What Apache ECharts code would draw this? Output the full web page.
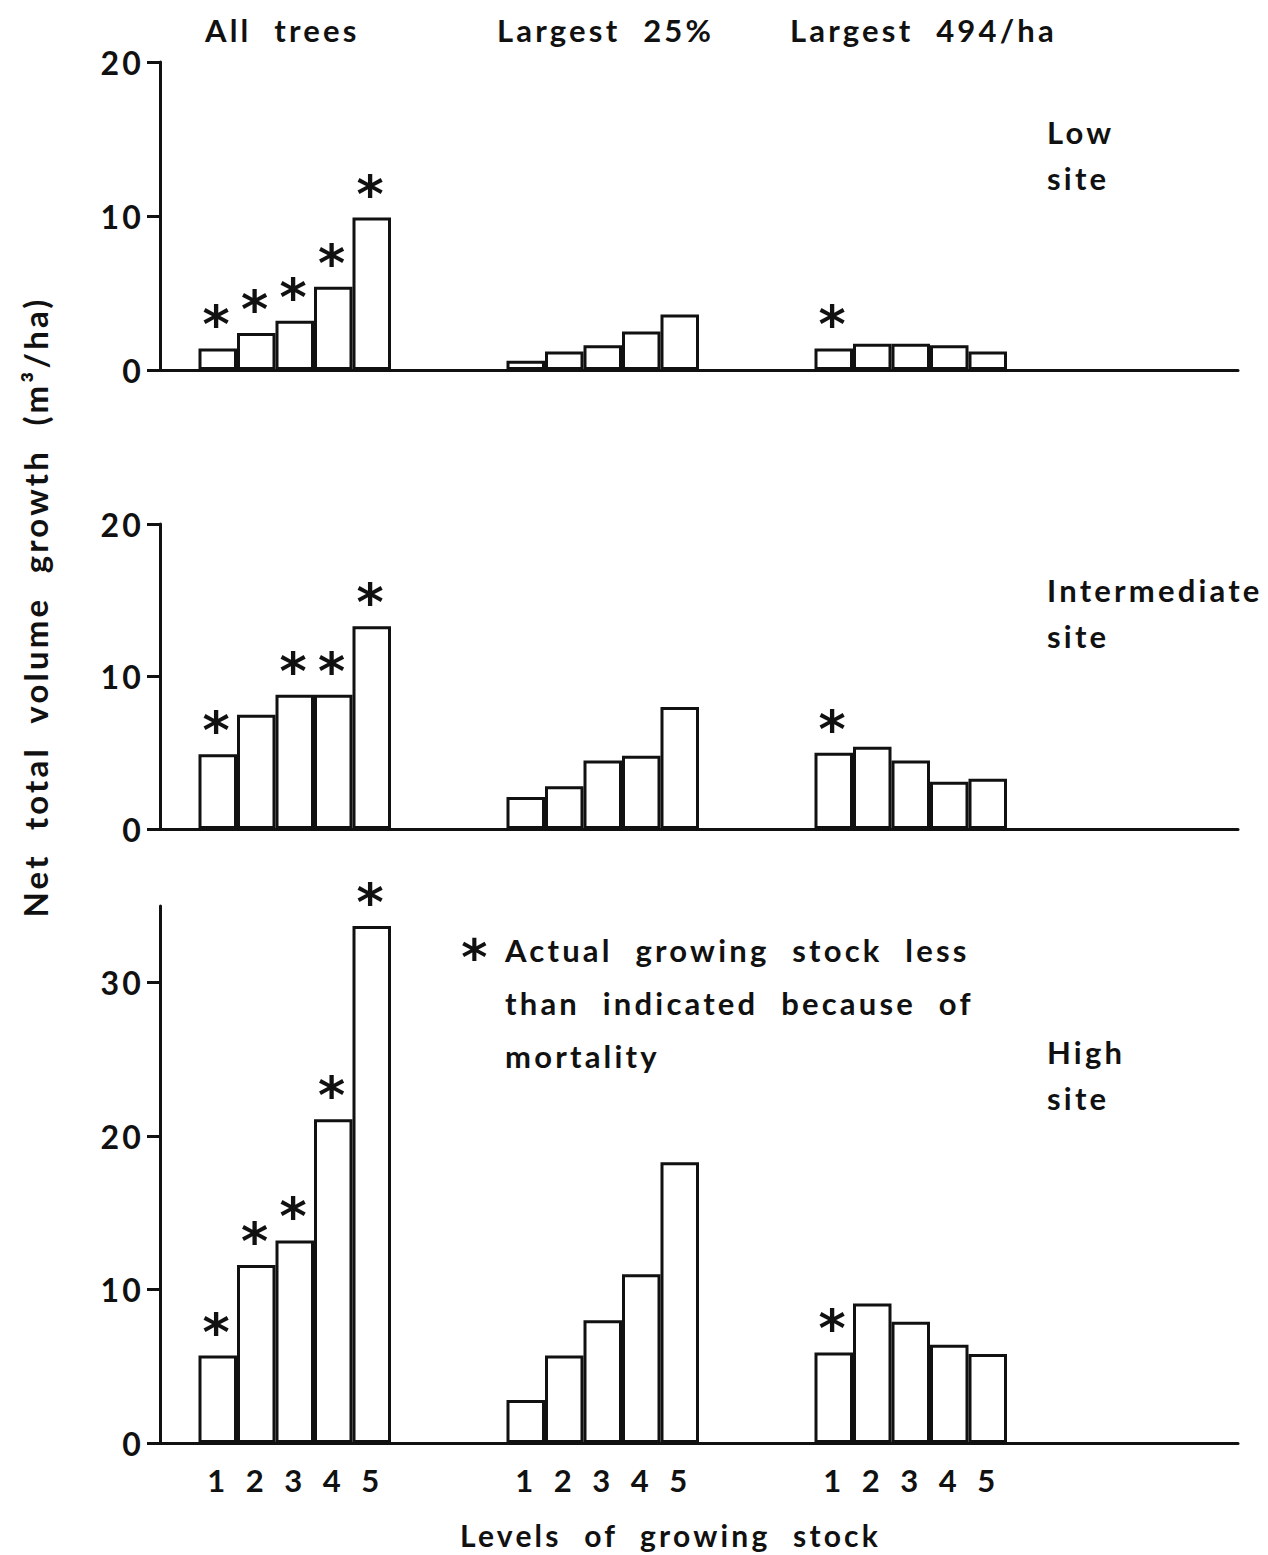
<!DOCTYPE html>
<html>
<head>
<meta charset="utf-8">
<script src="https://cdn.jsdelivr.net/npm/echarts@6/dist/echarts.min.js"></script>
<style>
  html, body { margin: 0; padding: 0; background: #fff; }
  #chart { width: 1268px; height: 1555px; }
  #chart text { letter-spacing: 3.2px; word-spacing: 12px; }
</style>
</head>
<body>
<div id="chart"></div>
<script>
// Column headings, x tick labels and site labels
const groupNames = ['All trees', 'Largest 25%', 'Largest 494/ha'];
const levels = ['1', '2', '3', '4', '5'];
const siteNames = ['Low', 'Intermediate', 'High'];

// Net total volume growth (m3/ha) by level of growing stock
const lowAll = [1.4, 2.4, 3.2, 5.4, 9.9];
const low25 = [0.6, 1.2, 1.6, 2.5, 3.6];
const low494 = [1.4, 1.7, 1.7, 1.6, 1.2];

const intAll = [4.9, 7.5, 8.8, 8.8, 13.3];
const int25 = [2.1, 2.8, 4.5, 4.8, 8.0];
const int494 = [5.0, 5.4, 4.5, 3.1, 3.3];

const highAll = [5.7, 11.6, 13.2, 21.1, 33.7];
const high25 = [2.8, 5.7, 8.0, 11.0, 18.3];
const high494 = [5.9, 9.1, 7.9, 6.4, 5.8];

// 1 = actual growing stock less than indicated because of mortality
const lowAllMort = [1, 1, 1, 1, 1];
const low25Mort = [0, 0, 0, 0, 0];
const low494Mort = [1, 0, 0, 0, 0];
const intAllMort = [1, 0, 1, 1, 1];
const int25Mort = [0, 0, 0, 0, 0];
const int494Mort = [1, 0, 0, 0, 0];
const highAllMort = [1, 1, 1, 1, 1];
const high25Mort = [0, 0, 0, 0, 0];
const high494Mort = [1, 0, 0, 0, 0];

// y-axis ticks
const ticks20 = [0, 10, 20];
const ticks30 = [0, 10, 20, 30];

const legendLines = ['Actual growing stock less', 'than indicated because of', 'mortality'];
const yTitle = 'Net total volume growth (m\u00B3/ha)';
const xTitle = 'Levels of growing stock';

// ---- layout: each panel's x axis is a row of equal slots; groups of 5 bars sit in it
const SLOT_COUNT = 28;
const GROUP_START = [1, 9, 17];
const FONT = 'Lato';
const STAR_FONT = 'DejaVu Sans';
const INK = '#111';
const TEXT_FONT = 'bold 31px "' + FONT + '"';
const XTITLE_FONT = 'bold 30px "' + FONT + '"';
const YTITLE_FONT = 'bold 33px "' + FONT + '"';
const STAR_STYLE = 'bold 50px "' + STAR_FONT + '"';

const slots = Array.from({ length: SLOT_COUNT }, (_, i) => 's' + i);

function levelForSlot(idx) {
  for (let g = 0; g < GROUP_START.length; g++) {
    const k = idx - GROUP_START[g];
    if (k >= 0 && k < levels.length) return levels[k];
  }
  return '';
}

function slotData(groups, flags) {
  const out = new Array(SLOT_COUNT).fill(null);
  groups.forEach((vals, g) => {
    vals.forEach((v, i) => {
      out[GROUP_START[g] + i] = flags[g][i] ? { value: v, label: { show: true } } : v;
    });
  });
  return out;
}

const panels = [
  { groups: [lowAll, low25, low494], flags: [lowAllMort, low25Mort, low494Mort], max: 20, ticks: ticks20,
    grid: { left: 160, right: 30, top: 62, height: 308 } },
  { groups: [intAll, int25, int494], flags: [intAllMort, int25Mort, int494Mort], max: 20, ticks: ticks20,
    grid: { left: 160, right: 30, top: 524, height: 305 } },
  { groups: [highAll, high25, high494], flags: [highAllMort, high25Mort, high494Mort], max: 35, ticks: ticks30,
    grid: { left: 160, right: 30, top: 906, height: 537 } }
];

const axisLine = { show: true, lineStyle: { color: INK, width: 3 } };

function textEl(t, x, y, align, extra, font) {
  return Object.assign({
    type: 'text', x: x, y: y,
    style: { text: t, font: font || TEXT_FONT, fill: INK, textAlign: align || 'left', textVerticalAlign: 'middle' }
  }, extra || {});
}

const option = {
  animation: false,
  backgroundColor: '#fff',
  grid: panels.map(p => p.grid),
  xAxis: panels.map((p, i) => ({
    gridIndex: i,
    type: 'category',
    data: slots,
    axisLine: axisLine,
    axisTick: { show: false },
    axisLabel: {
      show: i === panels.length - 1,
      interval: 0,
      margin: 21,
      fontFamily: FONT,
      fontWeight: 'bold',
      fontSize: 31,
      color: INK,
      formatter: (val, idx) => levelForSlot(idx)
    },
    splitLine: { show: false }
  })),
  yAxis: panels.map((p, i) => ({
    gridIndex: i,
    type: 'value',
    min: 0,
    max: p.max,
    interval: 10,
    axisLine: axisLine,
    axisTick: { show: true, inside: false, length: 13, customValues: p.ticks,
      lineStyle: { color: INK, width: 3 } },
    axisLabel: { margin: 16, fontFamily: FONT, fontWeight: 'bold', fontSize: 32, color: INK, customValues: p.ticks,
      formatter: v => (p.ticks.indexOf(v) >= 0 ? String(v) : '') },
    splitLine: { show: false }
  })),
  series: panels.map((p, i) => ({
    type: 'bar',
    xAxisIndex: i,
    yAxisIndex: i,
    data: slotData(p.groups, p.flags),
    barCategoryGap: '0%',
    itemStyle: { color: '#fff', borderColor: INK, borderWidth: 3 },
    emphasis: { disabled: true },
    label: {
      show: false,
      position: 'top',
      distance: -2,
      formatter: '*',
      fontFamily: STAR_FONT,
      fontWeight: 'bold',
      fontSize: 52,
      color: INK
    }
  })),
  graphic: [
    ...groupNames.map((t, g) => textEl(t, [205, 497, 790][g], 30)),
    ...siteNames.flatMap((t, s) => [
      textEl(t, 1047, [132, 590, 1052][s]),
      textEl('site', 1047, [178, 636, 1098][s])
    ]),
    { type: 'text', x: 476, y: 958,
      style: { text: '*', font: STAR_STYLE, fill: INK, textAlign: 'center', textVerticalAlign: 'middle' } },
    ...legendLines.map((t, k) => textEl(t, 505, 950 + k * 53)),
    textEl(xTitle, 460, 1535, 'left', null, XTITLE_FONT),
    textEl(yTitle, 35, 607, 'center', { rotation: Math.PI / 2 }, YTITLE_FONT)
  ]
};

const chart = echarts.init(document.getElementById('chart'), null, { renderer: 'svg' });
chart.setOption(option);
</script>
</body>
</html>
